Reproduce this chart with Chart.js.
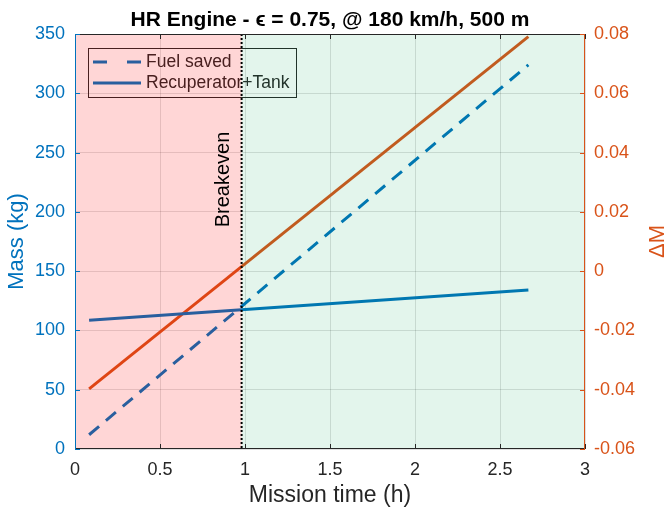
<!DOCTYPE html>
<html>
<head>
<meta charset="utf-8">
<script src="https://cdn.jsdelivr.net/npm/chart.js@4/dist/chart.umd.min.js"></script>
<style>
  html, body { margin: 0; padding: 0; background: #fff; }
  #wrap { width: 667px; height: 510px; }
</style>
</head>
<body>
<div id="wrap"><canvas id="chart"></canvas></div>
<script>
// values
const timeH = [0.083, 2.667];
const fuelSaved = [12, 324];
const recupTank = [108.5, 134];
const deltaM = [-0.0397, 0.0791];
const breakevenH = 0.98;

const xTicks = [0, 0.5, 1, 1.5, 2, 2.5, 3];
const massTicks = [0, 50, 100, 150, 200, 250, 300, 350];
const deltaTicks = [-0.06, -0.04, -0.02, 0, 0.02, 0.04, 0.06, 0.08];

const BLUE = '#0072BD';
const ORANGE = '#D95319';
const DARK = '#262626';
const FONT = '"Liberation Sans", Arial, sans-serif';

Chart.defaults.font.family = FONT;
Chart.defaults.color = DARK;

function pts(ys) {
    return timeH.map((t, i) => ({ x: t, y: ys[i] }));
}

function setTicks(list) {
    return (scale) => { scale.ticks = list.map((v) => ({ value: v })); };
}

function drawLegend(ctx, a) {
    const left = a.left + 13, top = a.top + 14;
    ctx.strokeStyle = DARK;
    ctx.lineWidth = 1;
    ctx.strokeRect(left + 0.5, top + 0.5, 208, 49);

    ctx.strokeStyle = BLUE;
    ctx.lineWidth = 3;
    ctx.setLineDash([14, 20]);
    ctx.beginPath();
    ctx.moveTo(left + 5, top + 14);
    ctx.lineTo(left + 53, top + 14);
    ctx.stroke();
    ctx.setLineDash([]);
    ctx.beginPath();
    ctx.moveTo(left + 5, top + 35);
    ctx.lineTo(left + 53, top + 35);
    ctx.stroke();

    ctx.fillStyle = DARK;
    ctx.font = '17.5px ' + FONT;
    ctx.textBaseline = 'middle';
    ctx.textAlign = 'left';
    ctx.fillText('Fuel saved', left + 58, top + 14);
    ctx.fillText('Recuperator+Tank', left + 58, top + 35);
}

const overlay = {
    id: 'overlay',
    afterDatasetsDraw(chart) {
        const { ctx, chartArea: a, scales } = chart;
        const xb = scales.x.getPixelForValue(breakevenH);
        ctx.save();

        drawLegend(ctx, a);

        // shaded regions before / after breakeven
        ctx.fillStyle = 'rgba(255, 0, 0, 0.16)';
        ctx.fillRect(a.left, a.top, xb - a.left, a.bottom - a.top);
        ctx.fillStyle = 'rgba(0, 160, 80, 0.11)';
        ctx.fillRect(xb, a.top, a.right - xb, a.bottom - a.top);

        // breakeven marker
        ctx.strokeStyle = '#000';
        ctx.lineWidth = 2;
        ctx.setLineDash([2, 2]);
        ctx.beginPath();
        ctx.moveTo(xb, a.top);
        ctx.lineTo(xb, a.bottom);
        ctx.stroke();
        ctx.setLineDash([]);

        ctx.save();
        ctx.translate(xb - 12.5, scales.y.getPixelForValue(187));
        ctx.rotate(-Math.PI / 2);
        ctx.fillStyle = '#000';
        ctx.font = '20px ' + FONT;
        ctx.textAlign = 'left';
        ctx.textBaseline = 'alphabetic';
        ctx.fillText('Breakeven', 0, 0);
        ctx.restore();

        // axes box with inward ticks
        ctx.lineWidth = 1;
        const tl = 5;
        ctx.strokeStyle = DARK;
        ctx.beginPath();
        ctx.moveTo(a.left, a.top + 0.5); ctx.lineTo(a.right, a.top + 0.5);
        ctx.moveTo(a.left, a.bottom - 0.5); ctx.lineTo(a.right, a.bottom - 0.5);
        xTicks.forEach((v) => {
            const p = Math.round(scales.x.getPixelForValue(v)) + 0.5;
            ctx.moveTo(p, a.top); ctx.lineTo(p, a.top + tl);
            ctx.moveTo(p, a.bottom); ctx.lineTo(p, a.bottom - tl);
        });
        ctx.stroke();

        ctx.strokeStyle = BLUE;
        ctx.beginPath();
        ctx.moveTo(a.left + 0.5, a.top); ctx.lineTo(a.left + 0.5, a.bottom);
        massTicks.forEach((v) => {
            const p = Math.round(scales.y.getPixelForValue(v)) + 0.5;
            ctx.moveTo(a.left, p); ctx.lineTo(a.left + tl, p);
        });
        ctx.stroke();

        ctx.strokeStyle = ORANGE;
        ctx.beginPath();
        ctx.moveTo(a.right - 0.5, a.top); ctx.lineTo(a.right - 0.5, a.bottom);
        deltaTicks.forEach((v) => {
            const p = Math.round(scales.y1.getPixelForValue(v)) + 0.5;
            ctx.moveTo(a.right, p); ctx.lineTo(a.right - tl, p);
        });
        ctx.stroke();

        // right axis title, reads bottom-to-top
        ctx.save();
        ctx.translate(658, (a.top + a.bottom) / 2);
        ctx.rotate(-Math.PI / 2);
        ctx.fillStyle = ORANGE;
        ctx.font = '22px ' + FONT;
        ctx.textAlign = 'center';
        ctx.textBaseline = 'middle';
        ctx.fillText('\u0394M', 0, 0);
        ctx.restore();

        ctx.restore();
    },
};

new Chart(document.getElementById('chart'), {
    type: 'line',
    data: {
        datasets: [
            {
                label: 'Fuel saved',
                data: pts(fuelSaved),
                yAxisID: 'y',
                borderColor: BLUE,
                borderWidth: 3,
                borderDash: [13, 9],
                pointRadius: 0,
                fill: false,
            },
            {
                label: 'Recuperator+Tank',
                data: pts(recupTank),
                yAxisID: 'y',
                borderColor: BLUE,
                borderWidth: 3,
                pointRadius: 0,
                fill: false,
            },
            {
                label: '\u0394M',
                data: pts(deltaM),
                yAxisID: 'y1',
                borderColor: ORANGE,
                borderWidth: 3,
                pointRadius: 0,
                fill: false,
            },
        ],
    },
    options: {
        responsive: true,
        maintainAspectRatio: false,
        animation: false,
        layout: { padding: 0 },
        plugins: {
            legend: { display: false },
            tooltip: { enabled: false },
            title: {
                display: true,
                fullSize: false,
                text: 'HR Engine - \u03F5 = 0.75, @ 180 km/h, 500 m',
                color: '#000',
                font: { size: 21, weight: 'bold' },
                padding: { top: 7.5, bottom: 1.3 },
            },
        },
        scales: {
            x: {
                type: 'linear',
                min: 0,
                max: 3,
                afterBuildTicks: setTicks(xTicks),
                afterFit: (s) => { s.height = 61; },
                grid: { color: 'rgba(38,38,38,0.15)', tickLength: 0 },
                border: { display: false },
                ticks: { color: DARK, font: { size: 18 }, padding: 10, maxRotation: 0, callback: (v) => String(v) },
                title: { display: true, text: 'Mission time (h)', color: DARK, font: { size: 23 }, padding: { top: 0, bottom: 1 } },
            },
            y: {
                position: 'left',
                min: 0,
                max: 350,
                afterBuildTicks: setTicks(massTicks),
                afterFit: (s) => { s.width = 75; },
                grid: { color: 'rgba(38,38,38,0.15)', tickLength: 0 },
                border: { display: false },
                ticks: { color: BLUE, font: { size: 18 }, padding: 10 },
                title: { display: true, text: 'Mass (kg)', color: BLUE, font: { size: 22 }, padding: { top: 4, bottom: 0 } },
            },
            y1: {
                position: 'right',
                min: -0.06,
                max: 0.08,
                afterBuildTicks: setTicks(deltaTicks),
                afterFit: (s) => { s.width = 82; },
                grid: { drawOnChartArea: false, tickLength: 0 },
                border: { display: false },
                ticks: {
                    color: ORANGE,
                    font: { size: 18 },
                    padding: 9,
                    callback: (v) => (Math.abs(v) < 1e-9 ? '0' : v.toFixed(2)),
                },
            },
        },
    },
    plugins: [overlay],
});
</script>
</body>
</html>
